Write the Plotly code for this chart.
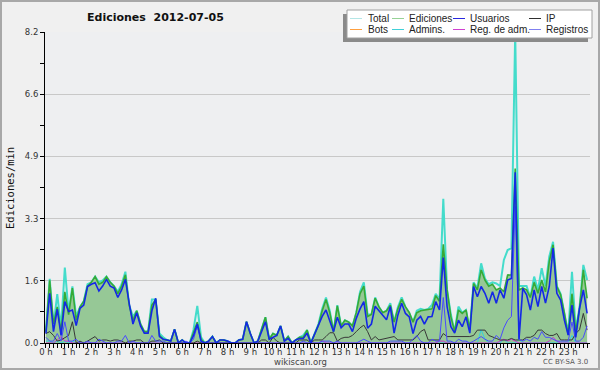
import pandas as pd
import plotly.graph_objects as go

# ---------------- data (10-minute bins, edits per minute) ----------------
times = pd.date_range("2012-07-05 00:00", periods=144, freq="10min")

total = [
    0.3, 1.69, 0.45, 1.29, 0.4, 1.99,
    0.8, 1.49, 0.7, 0.95, 1.1, 1.55,
    1.6, 1.75, 1.6, 1.65, 1.75, 1.6,
    1.5, 1.35, 1.55, 1.88, 1.0, 0.7,
    0.85, 0.5, 0.3, 0.3, 1.15, 1.15,
    0.25, 0.15, 0.08, 0.05, 0.36, 0.0,
    0.08, 0.0, 0.0, 0.35, 0.98, 0.15,
    0.0, 0.05, 0.17, 0.0, 0.08, 0.08,
    0.05, 0.0, 0.0, 0.08, 0.1, 0.56,
    0.25, 0.0, 0.05, 0.35, 0.68, 0.1,
    0.25, 0.2, 0.45, 0.05, 0.17, 0.0,
    0.08, 0.15, 0.2, 0.34, 0.0, 0.25,
    0.5, 0.9, 1.2, 0.85, 0.3, 1.0,
    0.45, 0.6, 0.55, 0.45, 0.8, 1.35,
    1.6, 0.75, 0.75, 1.2, 0.95, 0.8,
    0.85, 1.05, 0.55, 0.95, 1.2, 0.95,
    0.8, 0.55, 0.85, 0.9, 0.87, 0.9,
    1.0, 1.3, 1.15, 3.8, 1.4, 0.75,
    0.3, 0.96, 0.8, 0.87, 0.34, 1.6,
    1.45, 2.1, 1.7, 1.55, 1.6, 1.57,
    1.5, 2.19, 2.45, 2.5, 8.2, 1.5,
    1.5, 1.5, 1.2, 1.75, 1.4, 1.97,
    1.5, 2.28, 2.67, 1.5, 1.3, 0.8,
    0.25, 1.88, 0.35, 0.95, 2.06, 1.66,
]

ediciones = [
    0.3, 1.65, 0.5, 0.95, 0.3, 1.35,
    0.75, 1.45, 0.6, 0.95, 1.1, 1.5,
    1.6, 1.75, 1.55, 1.6, 1.75, 1.6,
    1.5, 1.3, 1.5, 1.8, 1.0, 0.6,
    0.85, 0.5, 0.3, 0.3, 1.0, 1.15,
    0.2, 0.1, 0.08, 0.05, 0.36, 0.0,
    0.08, 0.0, 0.0, 0.25, 0.55, 0.1,
    0.0, 0.05, 0.17, 0.0, 0.08, 0.08,
    0.05, 0.0, 0.0, 0.08, 0.1, 0.56,
    0.25, 0.0, 0.05, 0.35, 0.68, 0.1,
    0.25, 0.2, 0.45, 0.05, 0.17, 0.0,
    0.08, 0.15, 0.15, 0.34, 0.0, 0.25,
    0.47, 0.85, 1.15, 0.8, 0.3, 0.98,
    0.45, 0.6, 0.55, 0.45, 0.8, 1.3,
    1.5, 0.7, 0.75, 1.18, 0.95, 0.8,
    0.85, 1.0, 0.55, 0.9, 1.15, 0.95,
    0.8, 0.55, 0.8, 0.85, 0.87, 0.88,
    0.9, 1.25, 1.1, 2.6, 1.4, 0.69,
    0.3, 0.87, 0.78, 0.87, 0.34, 1.57,
    1.4, 1.93, 1.66, 1.5, 1.55, 1.4,
    1.45, 1.35, 1.79, 1.8, 4.6, 1.4,
    1.45, 1.4, 1.2, 1.6, 1.31, 1.66,
    1.35, 2.15, 2.59, 1.49, 1.27, 0.78,
    0.21, 1.3, 0.3, 0.91, 1.93, 1.18,
]

usuarios = [
    0.25, 1.31, 0.3, 0.89, 0.2, 1.09,
    0.83, 0.87, 0.46, 0.91, 1.0, 1.49,
    1.55, 1.59, 1.37, 1.5, 1.68, 1.5,
    1.45, 1.2, 1.4, 1.68, 1.05, 0.5,
    0.8, 0.45, 0.26, 0.26, 0.85, 1.18,
    0.17, 0.1, 0.08, 0.05, 0.36, 0.0,
    0.08, 0.0, 0.0, 0.2, 0.5, 0.05,
    0.0, 0.05, 0.17, 0.0, 0.08, 0.08,
    0.05, 0.0, 0.0, 0.08, 0.1, 0.56,
    0.25, 0.0, 0.05, 0.3, 0.56, 0.1,
    0.15, 0.2, 0.45, 0.05, 0.12, 0.0,
    0.08, 0.12, 0.12, 0.26, 0.0, 0.25,
    0.47, 0.7, 0.87, 0.6, 0.3, 0.68,
    0.4, 0.5, 0.5, 0.3, 0.65, 0.9,
    1.09, 0.39, 0.5, 0.97, 0.85, 0.7,
    0.61, 0.96, 0.26, 0.74, 1.05, 0.78,
    0.69, 0.25, 0.6, 0.7, 0.5, 0.69,
    0.7, 1.09, 0.87, 2.25, 0.96, 0.43,
    0.26, 0.6, 0.43, 0.69, 0.26, 1.49,
    1.22, 1.49, 1.31, 1.05, 1.35, 1.05,
    1.4, 1.18, 1.66, 1.7, 4.5, 0.1,
    1.44, 1.27, 0.87, 1.4, 0.96, 1.49,
    1.05, 1.49, 2.5, 1.31, 1.13, 0.6,
    0.21, 1.0, 0.15, 0.91, 1.4, 0.78,
]

ip = [
    0.25, 0.3, 0.2, 0.05, 0.08, 0.15,
    0.2, 0.56, 0.0, 0.05, 0.0, 0.05,
    0.1, 0.17, 0.05, 0.08, 0.08, 0.05,
    0.08, 0.08, 0.05, 0.0, 0.05, 0.05,
    0.08, 0.08, 0.0, 0.0, 0.05, 0.05,
    0.08, 0.0, 0.0, 0.0, 0.0, 0.0,
    0.0, 0.0, 0.0, 0.0, 0.05, 0.0,
    0.0, 0.0, 0.0, 0.0, 0.0, 0.0,
    0.0, 0.0, 0.0, 0.0, 0.0, 0.0,
    0.0, 0.0, 0.0, 0.08, 0.08, 0.0,
    0.15, 0.05, 0.0, 0.0, 0.0, 0.0,
    0.0, 0.08, 0.08, 0.08, 0.0, 0.08,
    0.08, 0.08, 0.17, 0.27, 0.27, 0.05,
    0.12, 0.15, 0.15, 0.2, 0.3, 0.4,
    0.47, 0.3, 0.08, 0.17, 0.08, 0.1,
    0.12, 0.15, 0.17, 0.08, 0.08, 0.08,
    0.08, 0.08, 0.17, 0.3, 0.36, 0.08,
    0.08, 0.08, 0.08, 0.25, 0.17, 0.17,
    0.17, 0.17, 0.17, 0.17, 0.17, 0.2,
    0.34, 0.34, 0.34, 0.2, 0.15, 0.12,
    0.08, 0.08, 0.08, 0.12, 0.08, 0.08,
    0.08, 0.15, 0.15, 0.2, 0.34, 0.34,
    0.25, 0.2, 0.2, 0.25, 0.08, 0.08,
    0.08, 0.08, 0.25, 0.35, 0.78, 0.34,
]

registros = [
    0.15, 0.05, 0.05, 0.25, 0.05, 0.56,
    0.05, 0.05, 0.1, 0.0, 0.0, 0.05,
    0.0, 0.0, 0.1, 0.05, 0.0, 0.0,
    0.0, 0.05, 0.05, 0.2, 0.0, 0.05,
    0.0, 0.0, 0.0, 0.0, 0.2, 0.05,
    0.05, 0.05, 0.0, 0.0, 0.0, 0.0,
    0.0, 0.05, 0.0, 0.1, 0.45, 0.05,
    0.0, 0.0, 0.0, 0.0, 0.0, 0.0,
    0.0, 0.0, 0.0, 0.0, 0.0, 0.0,
    0.0, 0.0, 0.0, 0.0, 0.0, 0.0,
    0.0, 0.0, 0.0, 0.0, 0.0, 0.0,
    0.0, 0.0, 0.05, 0.0, 0.0, 0.0,
    0.0, 0.05, 0.05, 0.05, 0.0, 0.05,
    0.0, 0.0, 0.0, 0.0, 0.0, 0.05,
    0.1, 0.05, 0.0, 0.0, 0.0, 0.0,
    0.0, 0.05, 0.05, 0.05, 0.05, 0.0,
    0.0, 0.1, 0.2, 0.05, 0.0, 0.0,
    0.1, 0.05, 0.05, 1.2, 0.05, 0.05,
    0.0, 0.1, 0.05, 0.05, 0.0, 0.05,
    0.1, 0.17, 0.1, 0.05, 0.05, 0.2,
    0.1, 0.4, 0.6, 0.7, 3.6, 0.1,
    0.05, 0.1, 0.05, 0.15, 0.1, 0.3,
    0.15, 0.15, 0.1, 0.05, 0.05, 0.05,
    0.05, 0.55, 0.05, 0.05, 0.15, 0.45,
]

admins = [
    0.05, 0.05, 0.0, 0.05, 0.0, 0.05,
    0.0, 0.05, 0.0, 0.0, 0.0, 0.0,
    0.0, 0.0, 0.0, 0.0, 0.0, 0.0,
    0.0, 0.0, 0.0, 0.0, 0.0, 0.0,
    0.0, 0.0, 0.0, 0.0, 0.0, 0.0,
    0.0, 0.0, 0.0, 0.0, 0.0, 0.0,
    0.0, 0.0, 0.0, 0.2, 0.5, 0.0,
    0.0, 0.0, 0.0, 0.0, 0.0, 0.0,
    0.0, 0.0, 0.0, 0.0, 0.0, 0.0,
    0.0, 0.0, 0.0, 0.0, 0.0, 0.0,
    0.0, 0.0, 0.0, 0.0, 0.0, 0.0,
    0.0, 0.0, 0.0, 0.0, 0.0, 0.0,
    0.0, 0.0, 0.0, 0.0, 0.0, 0.0,
    0.0, 0.0, 0.0, 0.0, 0.0, 0.0,
    0.0, 0.0, 0.0, 0.0, 0.0, 0.0,
    0.0, 0.0, 0.0, 0.0, 0.0, 0.0,
    0.0, 0.0, 0.0, 0.0, 0.0, 0.0,
    0.0, 0.0, 0.0, 0.0, 0.0, 0.0,
    0.0, 0.0, 0.0, 0.0, 0.0, 0.0,
    0.0, 0.35, 0.1, 0.0, 0.0, 0.0,
    0.0, 0.1, 0.0, 0.0, 0.0, 0.1,
    0.0, 0.0, 0.0, 0.0, 0.0, 0.0,
    0.0, 0.0, 0.0, 0.0, 0.0, 0.0,
    0.0, 0.2, 0.0, 0.0, 0.0, 0.0,
]

reg_adm = [
    0.0, 0.0, 0.0, 0.08, 0.17, 0.05,
    0.05, 0.0, 0.0, 0.0, 0.0, 0.0,
    0.0, 0.0, 0.0, 0.0, 0.0, 0.0,
    0.0, 0.0, 0.0, 0.0, 0.0, 0.0,
    0.0, 0.0, 0.0, 0.0, 0.0, 0.0,
    0.0, 0.0, 0.0, 0.0, 0.0, 0.0,
    0.0, 0.0, 0.0, 0.0, 0.0, 0.0,
    0.0, 0.0, 0.0, 0.0, 0.0, 0.0,
    0.0, 0.0, 0.0, 0.0, 0.0, 0.0,
    0.0, 0.0, 0.0, 0.0, 0.0, 0.0,
    0.0, 0.0, 0.0, 0.0, 0.0, 0.0,
    0.0, 0.0, 0.0, 0.0, 0.0, 0.0,
    0.0, 0.05, 0.0, 0.0, 0.0, 0.0,
    0.0, 0.0, 0.0, 0.0, 0.0, 0.0,
    0.0, 0.0, 0.0, 0.0, 0.0, 0.0,
    0.0, 0.0, 0.0, 0.0, 0.0, 0.0,
    0.0, 0.0, 0.0, 0.0, 0.0, 0.0,
    0.0, 0.0, 0.05, 0.05, 0.0, 0.0,
    0.0, 0.0, 0.0, 0.0, 0.0, 0.0,
    0.0, 0.0, 0.0, 0.0, 0.0, 0.0,
    0.05, 0.1, 0.05, 0.1, 0.05, 0.0,
    0.0, 0.0, 0.0, 0.0, 0.0, 0.0,
    0.0, 0.05, 0.15, 0.05, 0.0, 0.0,
    0.0, 0.0, 0.0, 0.0, 0.0, 0.0,
]

bots = [0.0] * 144

y_tick_values = [0.0, 1.64, 3.28, 4.92, 6.56, 8.2]
y_tick_labels = ["0.0", "1.6", "3.3", "4.9", "6.6", "8.2"]
hour_labels = ["0 h", "1 h", "2 h", "3 h", "4 h", "5 h", "6 h", "7 h", "8 h", "9 h",
               "10 h", "11 h", "12 h", "13 h", "14 h", "15 h", "16 h", "17 h", "18 h",
               "19 h", "20 h", "21 h", "22 h", "23 h"]
hour_ticks = pd.date_range("2012-07-05 00:00", periods=24, freq="1h")

legend_names = ["Total", "Ediciones", "Usuarios", "IP",
                "Bots", "Admins.", "Reg. de adm.", "Registros"]
legend_colors = ["#b4e6e6", "#96d296", "#2828e0", "#303030",
                 "#ffa040", "#40d0d8", "#d040d0", "#8080f0"]

# ---------------- layout helpers ----------------
W, H = 600, 370
ML, MR, MT, MB = 45, 10, 32, 27
PW, PH = W - ML - MR, H - MT - MB


def px(x, y):
    return (x - ML) / PW, (H - MB - y) / PH


fig = go.Figure()

for name, ys, col, w in [("Bots", bots, "#ffa040", 1), ("Total", total, "#44dccb", 2)]:
    fig.add_trace(go.Scatter(x=times, y=ys, mode="lines", name=name,
                             line=dict(color=col, width=w), showlegend=False,
                             hoverinfo="skip"))

fig.add_trace(go.Scatter(x=times, y=ediciones, mode="lines", name="Ediciones",
                         fill="tozeroy", fillcolor="#96c896",
                         line=dict(color="#36aa36", width=1.6), showlegend=False,
                         hoverinfo="skip"))

for name, ys, col, w in [
    ("Admins.", admins, "#30d0e0", 1),
    ("Reg. de adm.", reg_adm, "#d030d0", 1),
    ("IP", ip, "#383838", 1),
    ("Registros", registros, "#4a4aff", 1),
    ("Usuarios", usuarios, "#1428e6", 1.6),
]:
    fig.add_trace(go.Scatter(x=times, y=ys, mode="lines", name=name,
                             line=dict(color=col, width=w), showlegend=False,
                             hoverinfo="skip"))

shapes = []
annotations = []

# outer border
x0, y0 = px(1, 1)
x1, y1 = px(599, 369)
shapes.append(dict(type="rect", xref="paper", yref="paper", x0=x0, y0=y0, x1=x1, y1=y1,
                   line=dict(color="#a8a8a8", width=2)))

# legend box with shadow
x0, y0 = px(343, 14)
x1, y1 = px(588, 42)
shapes.append(dict(type="rect", xref="paper", yref="paper", x0=x0, y0=y0, x1=x1, y1=y1,
                   fillcolor="#8a8a8a", line=dict(width=0)))
x0, y0 = px(347, 10)
x1, y1 = px(592, 38)
shapes.append(dict(type="rect", xref="paper", yref="paper", x0=x0, y0=y0, x1=x1, y1=y1,
                   fillcolor="#ffffff", line=dict(color="#a0a0a0", width=1)))

col_swatch = [350, 392, 453, 529]
col_text = [366, 407, 468, 544]
row_y = [18.5, 29.5]
for i, (name, col) in enumerate(zip(legend_names, legend_colors)):
    r, c = divmod(i, 4)
    sx0, sy = px(col_swatch[c], row_y[r])
    sx1, _ = px(col_swatch[c] + 12, row_y[r])
    shapes.append(dict(type="line", xref="paper", yref="paper", x0=sx0, x1=sx1, y0=sy, y1=sy,
                       line=dict(color=col, width=1)))
    tx, ty = px(col_text[c], row_y[r])
    annotations.append(dict(text=name, xref="paper", yref="paper", x=tx, y=ty,
                            xanchor="left", yanchor="middle", showarrow=False,
                            font=dict(family="Liberation Sans", size=10, color="#222222")))

# title
tx, ty = px(155, 17)
annotations.append(dict(text="<b>Ediciones\u00a0\u00a02012-07-05</b>", xref="paper",
                        yref="paper", x=tx, y=ty, xanchor="center", yanchor="middle",
                        showarrow=False,
                        font=dict(family="DejaVu Sans", size=11, color="#111111")))

# y axis title
tx, ty = px(10, 188)
annotations.append(dict(text="Ediciones/min", xref="paper", yref="paper", x=tx, y=ty,
                        xanchor="center", yanchor="middle", showarrow=False, textangle=-90,
                        font=dict(family="DejaVu Sans Mono", size=10.5, color="#111111")))

# footers
tx, ty = px(300, 362)
annotations.append(dict(text="wikiscan.org", xref="paper", yref="paper", x=tx, y=ty,
                        xanchor="center", yanchor="middle", showarrow=False,
                        font=dict(family="DejaVu Sans", size=8.5, color="#444444")))
tx, ty = px(590, 362)
annotations.append(dict(text="CC BY-SA 3.0", xref="paper", yref="paper", x=tx, y=ty,
                        xanchor="right", yanchor="middle", showarrow=False,
                        font=dict(family="DejaVu Sans", size=7, color="#555555")))

fig.update_layout(
    width=W, height=H,
    margin=dict(l=ML, r=MR, t=MT, b=MB, pad=0),
    paper_bgcolor="#f0f0f0",
    plot_bgcolor="#eeeff1",
    showlegend=False,
    shapes=shapes,
    annotations=annotations,
    xaxis=dict(
        type="date",
        range=["2012-07-04 23:57:36", "2012-07-05 23:57:36"],
        tickmode="array", tickvals=hour_ticks, ticktext=hour_labels,
        ticks="outside", ticklen=4, tickcolor="#000000", tickwidth=1,
        ticklabelstandoff=-3,
        showline=True, linecolor="#000000", linewidth=1,
        showgrid=False, zeroline=False,
        tickfont=dict(family="DejaVu Sans", size=8.5, color="#333333"),
        minor=dict(tick0="2012-07-05 00:00", dtick=600000, ticks="outside",
                   ticklen=4, tickcolor="#000000", showgrid=False),
        fixedrange=True,
    ),
    yaxis=dict(
        range=[0, 8.2],
        tickmode="array", tickvals=y_tick_values, ticktext=y_tick_labels,
        ticks="outside", ticklen=4, tickcolor="#000000", tickwidth=1,
        showline=True, linecolor="#000000", linewidth=1,
        showgrid=True, gridcolor="#c8c8c8", gridwidth=1, zeroline=False,
        tickfont=dict(family="DejaVu Sans", size=8.5, color="#333333"),
        minor=dict(tick0=0, dtick=0.82, ticks="outside", ticklen=4,
                   tickcolor="#000000", showgrid=False),
        fixedrange=True,
    ),
)

fig.write_html(
    "out.html",
    config={"displayModeBar": False},
    post_script="document.body.style.margin='0';document.body.style.padding='0';"
                "document.body.style.overflow='hidden';",
)
